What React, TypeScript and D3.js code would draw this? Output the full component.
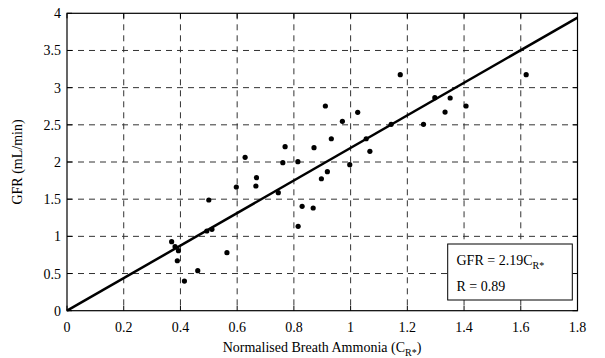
import React from "react";
import * as d3 from "d3";

const ammonia = [0.369,0.381,0.393,0.389,0.414,0.461,0.564,0.493,0.511,0.5,0.597,0.628,0.666,0.668,0.745,0.769,0.761,0.814,0.829,0.815,0.868,0.871,0.897,0.918,0.911,0.932,0.971,0.997,1.025,1.055,1.068,1.143,1.175,1.257,1.297,1.333,1.351,1.407,1.619];
const gfr = [0.928,0.861,0.807,0.672,0.399,0.538,0.78,1.072,1.095,1.489,1.664,2.063,1.677,1.789,1.587,2.206,1.991,2.004,1.404,1.135,1.381,2.192,1.775,1.87,2.753,2.313,2.547,1.964,2.668,2.313,2.144,2.507,3.174,2.507,2.865,2.672,2.861,2.753,3.174];
const xTicks = [0,0.2,0.4,0.6,0.8,1,1.2,1.4,1.6,1.8];
const yTicks = [0,0.5,1,1.5,2,2.5,3,3.5,4];
const slope = 2.19;
const fitLabel = "GFR = 2.19C";
const rLabel = "R = 0.89";

export default function App() {
  const W = 605, H = 358;
  const x = d3.scaleLinear().domain([0, 1.8]).range([67, 577.5]);
  const y = d3.scaleLinear().domain([0, 4]).range([310.7, 13.3]);
  const font = "Liberation Serif, Tinos, Times New Roman, DejaVu Serif, serif";
  const ts = { fontFamily: font };
  const line = d3.line<number>().x(d => x(d)).y(d => y(slope * d));
  const [x0, x1] = x.range();
  const [y0, y1] = y.range();
  const tick = 5;
  return (
    <svg width={W} height={H} style={{ position: "absolute", left: 0, top: 0, background: "#fff", fontFamily: font }}>
      <rect x={0} y={0} width={W} height={H} fill="#fff" />
      {xTicks.slice(1, -1).map(t => (
        <line key={"gx" + t} x1={x(t)} x2={x(t)} y1={y1} y2={y0} stroke="#333" strokeWidth={1} strokeDasharray="6,5" />
      ))}
      {yTicks.slice(1, -1).map(t => (
        <line key={"gy" + t} x1={x0} x2={x1} y1={y(t)} y2={y(t)} stroke="#333" strokeWidth={1} strokeDasharray="6,5" />
      ))}
      {xTicks.map(t => (
        <g key={"tx" + t}>
          <line x1={x(t)} x2={x(t)} y1={y0} y2={y0 - tick} stroke="#000" />
          <line x1={x(t)} x2={x(t)} y1={y1} y2={y1 + tick} stroke="#000" />
          <text style={ts} x={x(t)} y={332} fontSize={14} textAnchor="middle">{t}</text>
        </g>
      ))}
      {yTicks.map(t => (
        <g key={"ty" + t}>
          <line x1={x0} x2={x0 + tick} y1={y(t)} y2={y(t)} stroke="#000" />
          <line x1={x1} x2={x1 - tick} y1={y(t)} y2={y(t)} stroke="#000" />
          <text style={ts} x={61} y={y(t) + 5} fontSize={14} textAnchor="end">{t}</text>
        </g>
      ))}
      <path d={line([0, 1.8]) || ""} fill="none" stroke="#000" strokeWidth={2.5} />
      {ammonia.map((a, i) => (
        <circle key={i} cx={x(a)} cy={y(gfr[i])} r={2.6} fill="#000" />
      ))}
      <rect x={x0} y={y1} width={x1 - x0} height={y0 - y1} fill="none" stroke="#000" strokeWidth={1.2} />
      <rect x={447.7} y={244} width={124.6} height={56} fill="#fff" stroke="#000" strokeWidth={1} />
      <text style={ts} x={456.5} y={265} fontSize={14}>
        {fitLabel}
        <tspan fontSize={10} dy={4}>R*</tspan>
      </text>
      <text style={ts} x={456.5} y={290.5} fontSize={14}>{rLabel}</text>
      <text style={ts} x={322} y={352} fontSize={14} textAnchor="middle">
        Normalised Breath Ammonia (C
        <tspan fontSize={10} dy={4}>R*</tspan>
        <tspan fontSize={14} dy={-4}>)</tspan>
      </text>
      <text style={ts} transform="translate(22,162) rotate(-90)" fontSize={14} textAnchor="middle">GFR (mL/min)</text>
    </svg>
  );
}
